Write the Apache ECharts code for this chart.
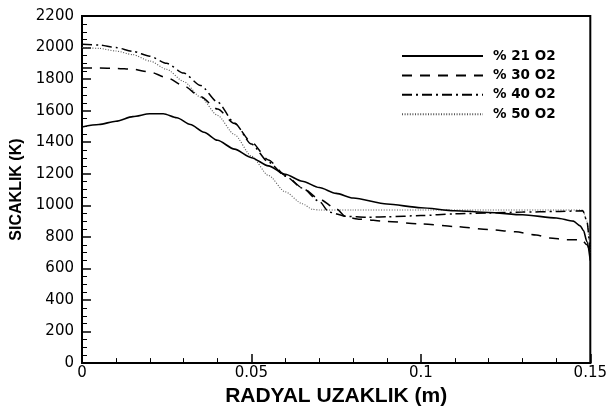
<!DOCTYPE html>
<html>
<head>
<meta charset="utf-8">
<script src="https://cdn.jsdelivr.net/npm/echarts@6/dist/echarts.min.js"></script>
<style>
  html, body { margin: 0; padding: 0; background: #fff; }
  #chart { width: 610px; height: 412px; }
</style>
</head>
<body>
<div id="chart"></div>
<script>
// Radial temperature profiles for different oxygen fractions
const seriesNames = ['% 21 O2', '% 30 O2', '% 40 O2', '% 50 O2'];

const r21 = [0, 0.005, 0.01, 0.015, 0.02, 0.024, 0.028, 0.032, 0.036, 0.04, 0.045, 0.05, 0.055, 0.06, 0.065, 0.07, 0.075, 0.08, 0.09, 0.1, 0.11, 0.12, 0.13, 0.14, 0.145, 0.147, 0.148, 0.149, 0.15];
const t21 = [1497, 1512, 1533, 1562, 1580, 1580, 1555, 1512, 1463, 1412, 1356, 1302, 1250, 1197, 1153, 1113, 1076, 1046, 1008, 985, 966, 955, 940, 920, 900, 870, 840, 770, 650];

const r30 = [0, 0.005, 0.01, 0.015, 0.02, 0.025, 0.03, 0.035, 0.04, 0.045, 0.05, 0.055, 0.06, 0.065, 0.07, 0.075, 0.078, 0.082, 0.09, 0.1, 0.11, 0.12, 0.128, 0.134, 0.138, 0.143, 0.1475, 0.149, 0.15];
const t30 = [1871, 1871, 1868, 1862, 1845, 1810, 1757, 1688, 1610, 1518, 1400, 1288, 1190, 1112, 1040, 978, 925, 912, 898, 882, 866, 847, 832, 812, 793, 782, 782, 750, 700];

const r40 = [0, 0.005, 0.01, 0.015, 0.02, 0.025, 0.03, 0.035, 0.04, 0.045, 0.05, 0.055, 0.06, 0.065, 0.07, 0.073, 0.078, 0.084, 0.09, 0.1, 0.11, 0.12, 0.13, 0.14, 0.1478, 0.149, 0.15];
const t40 = [2021, 2016, 2000, 1976, 1945, 1900, 1838, 1760, 1655, 1522, 1388, 1275, 1185, 1110, 1025, 956, 930, 924, 927, 935, 946, 952, 957, 961, 965, 900, 680];

const r50 = [0, 0.005, 0.01, 0.015, 0.02, 0.025, 0.03, 0.035, 0.04, 0.045, 0.05, 0.055, 0.06, 0.065, 0.068, 0.07, 0.08, 0.1, 0.12, 0.14, 0.1478, 0.149, 0.15];
const t50 = [2001, 1995, 1978, 1955, 1915, 1862, 1785, 1685, 1570, 1448, 1312, 1190, 1085, 1010, 975, 970, 970, 970, 970, 970, 970, 900, 700];

const xTickLabels = ['0', '0.05', '0.1', '0.15'];
const yTickValues = [0, 200, 400, 600, 800, 1000, 1200, 1400, 1600, 1800, 2000, 2200];

function pairs(xs, ys) {
  return xs.map((x, i) => [x, ys[i]]);
}

const lineStyles = [
  { color: '#000', width: 1.6, type: 'solid' },
  { color: '#000', width: 1.5, type: [10, 8] },
  { color: '#000', width: 1.5, type: [10, 4, 2, 4] },
  { color: '#555', width: 1.1, type: [1, 1.6] }
];
const dataSets = [pairs(r21, t21), pairs(r30, t30), pairs(r40, t40), pairs(r50, t50)];

const chart = echarts.init(document.getElementById('chart'), null, { renderer: 'canvas' });

chart.setOption({
  animation: false,
  backgroundColor: '#fff',
  grid: {
    left: 82, right: 19, top: 16, bottom: 35.5,
    show: true, borderColor: '#000', borderWidth: 2, backgroundColor: 'transparent'
  },
  legend: {
    orient: 'vertical',
    left: 396,
    top: 44,
    itemWidth: 81,
    itemHeight: 14,
    itemGap: 5.4,
    data: seriesNames,
    itemStyle: { opacity: 0, borderWidth: 0 },
    textStyle: {
      fontFamily: 'DejaVu Sans',
      fontWeight: 'bold',
      fontSize: 13.5,
      color: '#000',
      padding: [0, 0, 0, 5]
    }
  },
  xAxis: {
    type: 'value',
    min: 0,
    max: 0.15,
    interval: 0.05,
    name: 'RADYAL UZAKLIK (m)',
    nameLocation: 'middle',
    nameGap: 11,
    nameTextStyle: {
      fontFamily: 'Liberation Sans',
      fontWeight: 'bold',
      fontSize: 21,
      color: '#000'
    },
    axisLine: { show: true, lineStyle: { color: '#000', width: 2 } },
    axisTick: { show: true, inside: true, length: 9, lineStyle: { color: '#000', width: 1.5 } },
    minorTick: { show: true, splitNumber: 5, length: 5, lineStyle: { color: '#000', width: 1 } },
    splitLine: { show: false },
    axisLabel: {
      margin: 3,
      fontFamily: 'DejaVu Sans',
      fontSize: 15,
      color: '#000',
      formatter: function (v) {
        return xTickLabels[Math.round(v / 0.05)];
      }
    }
  },
  yAxis: {
    type: 'value',
    min: 0,
    max: 2200,
    interval: 200,
    name: 'SICAKLIK (K)',
    nameLocation: 'middle',
    nameGap: 49,
    nameRotate: 90,
    nameTextStyle: {
      fontFamily: 'Liberation Sans',
      fontWeight: 'bold',
      fontSize: 16,
      color: '#000'
    },
    axisLine: { show: true, lineStyle: { color: '#000', width: 2 } },
    axisTick: { show: true, inside: true, length: 9, lineStyle: { color: '#000', width: 1.5 } },
    minorTick: { show: true, splitNumber: 4, length: 5, lineStyle: { color: '#000', width: 1 } },
    splitLine: { show: false },
    axisLabel: {
      margin: 8,
      fontFamily: 'DejaVu Sans',
      fontSize: 15,
      color: '#000',
      formatter: function (v) {
        return yTickValues.indexOf(v) >= 0 ? String(v) : '';
      }
    }
  },
  series: seriesNames.map((name, i) => ({
    name: name,
    type: 'line',
    data: dataSets[i],
    symbol: 'none',
    smooth: 0.25,
    smoothMonotone: 'x',
    lineStyle: lineStyles[i],
    itemStyle: { color: lineStyles[i].color },
    z: 4 - i
  }))
});
</script>
</body>
</html>
